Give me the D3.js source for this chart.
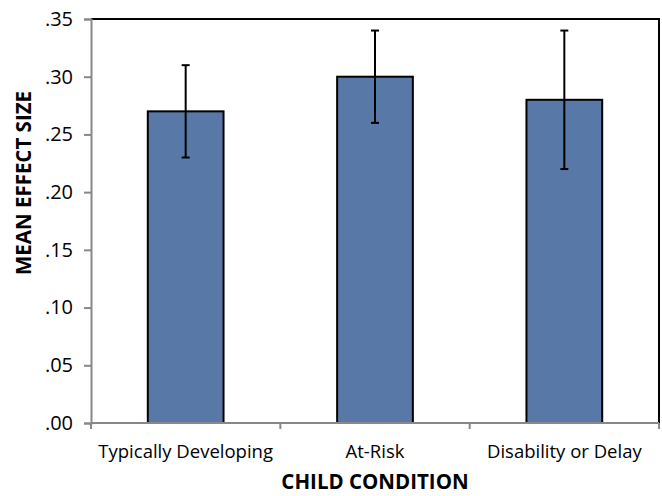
<!DOCTYPE html>
<html><head><meta charset="utf-8">
<script src="https://cdn.jsdelivr.net/npm/d3@7"></script>
<style>body{margin:0;background:#fff}svg{display:block}text{font-family:"Open Sans",sans-serif;fill:#000}</style>
</head><body><svg id="c" width="662" height="496"></svg>
<script>
const categories = ["Typically Developing", "At-Risk", "Disability or Delay"];
const values = [0.27, 0.30, 0.28];
const errLow = [0.23, 0.26, 0.22];
const errHigh = [0.31, 0.34, 0.34];
const yTicks = [0, 0.05, 0.10, 0.15, 0.20, 0.25, 0.30, 0.35];

const svg = d3.select("#c");
const L = 91, R = 659, T = 19, B = 423;
const x = d3.scaleBand().domain(categories).range([L, R]).paddingInner(0.6).paddingOuter(0.3);
const xb = d3.scaleBand().domain(categories).range([L, R]);
const y = d3.scaleLinear().domain([0, 0.35]).range([B, T]);

// frame top/right
svg.append("path").attr("d", `M${L},${T}H${R}V${B}`).attr("fill","none").attr("stroke","#000").attr("stroke-width",2);

// bars
svg.selectAll("rect.bar").data(values).join("rect")
  .attr("x",(d,i)=>x(categories[i])).attr("width",x.bandwidth())
  .attr("y",d=>y(d)).attr("height",d=>B-y(d))
  .attr("fill","#5878A8").attr("stroke","#000").attr("stroke-width",2);

// error bars
const eg = svg.append("g").attr("stroke","#000").attr("stroke-width",2);
categories.forEach((c,i)=>{
  const cx = x(c)+x.bandwidth()/2;
  eg.append("line").attr("x1",cx).attr("x2",cx).attr("y1",y(errLow[i])).attr("y2",y(errHigh[i]));
  eg.append("line").attr("x1",cx-4).attr("x2",cx+4).attr("y1",y(errLow[i])).attr("y2",y(errLow[i]));
  eg.append("line").attr("x1",cx-4).attr("x2",cx+4).attr("y1",y(errHigh[i])).attr("y2",y(errHigh[i]));
});

// y axis
const yAxis = d3.axisLeft(y).tickValues(yTicks).tickSize(7).tickPadding(11)
  .tickFormat(d=>d3.format(".2f")(d).replace(/^0/,""));
const ga = svg.append("g").attr("transform",`translate(${L},0)`).call(yAxis);
ga.select(".domain").attr("stroke","#888").attr("stroke-width",2);
ga.selectAll(".tick line").attr("stroke","#888").attr("stroke-width",2);
ga.selectAll("text").attr("font-size",20).attr("font-family","Open Sans");

// x axis
const gx = svg.append("g").attr("transform",`translate(0,${B})`);
gx.append("line").attr("x1",L).attr("x2",R).attr("stroke","#888").attr("stroke-width",2);
[L, ...categories.map(c=>xb(c)+xb.bandwidth())].forEach(v=>{
  gx.append("line").attr("x1",v).attr("x2",v).attr("y1",0).attr("y2",6).attr("stroke","#888").attr("stroke-width",2);
});
categories.forEach(c=>{
  gx.append("text").attr("x",xb(c)+xb.bandwidth()/2).attr("y",35).attr("text-anchor","middle").attr("font-size",18.5).text(c);
});

svg.append("text").attr("x",(L+R)/2).attr("y",489).attr("text-anchor","middle").attr("font-size",20.5).attr("font-weight","bold").text("CHILD CONDITION");
svg.append("text").attr("transform",`translate(31,183) rotate(-90)`).attr("text-anchor","middle").attr("font-size",20.5).attr("font-weight","bold").text("MEAN EFFECT SIZE");
</script></body></html>
